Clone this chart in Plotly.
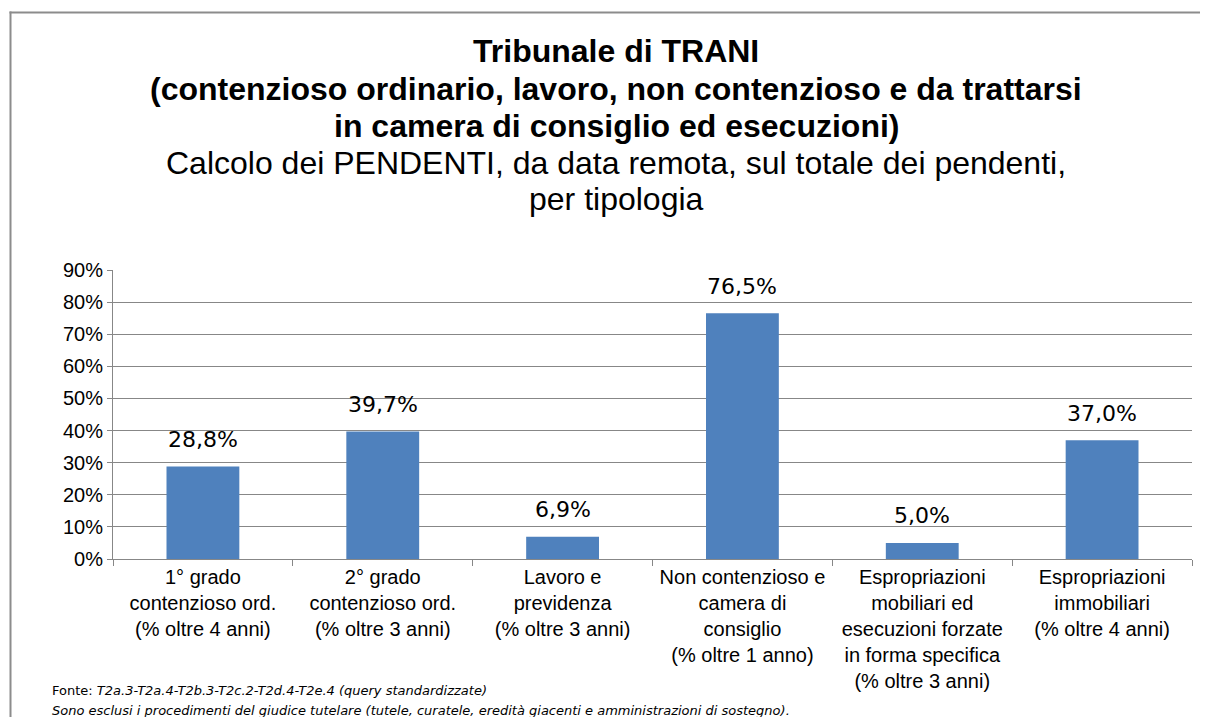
import plotly.graph_objects as go

categories = [
    "1° grado<br>contenzioso ord.<br>(% oltre 4 anni)",
    "2° grado<br>contenzioso ord.<br>(% oltre 3 anni)",
    "Lavoro e<br>previdenza<br>(% oltre 3 anni)",
    "Non contenzioso e<br>camera di<br>consiglio<br>(% oltre 1 anno)",
    "Espropriazioni<br>mobiliari ed<br>esecuzioni forzate<br>in forma specifica<br>(% oltre 3 anni)",
    "Espropriazioni<br>immobiliari<br>(% oltre 4 anni)",
]
values = [0.288, 0.397, 0.069, 0.765, 0.050, 0.370]
y_ticks = [0, 0.1, 0.2, 0.3, 0.4, 0.5, 0.6, 0.7, 0.8, 0.9]

title_lines = [
    ("<b>Tribunale di TRANI</b>", 51),
    ("<b>(contenzioso ordinario, lavoro, non contenzioso e da trattarsi</b>", 89),
    ("<b>in camera di consiglio ed esecuzioni)</b>", 126),
    ("Calcolo dei PENDENTI, da data remota, sul totale dei pendenti,", 163),
    ("per tipologia", 199),
]

OFF = 8  # page body margin
W, H = 1192, 709
L, R, T, B = 105, 8, 262, 158
pw, ph = W - L - R, H - T - B


def px_x(p):
    return (p - OFF - L) / pw


def px_y(p):
    return (H - B - (p - OFF)) / ph


grid = "#878787"
font_main = "Liberation Sans, Arial, sans-serif"

fig = go.Figure()
fig.add_trace(go.Bar(
    x=categories, y=values,
    marker=dict(color="#4F81BD", line=dict(width=0)),
    width=0.405,
    hoverinfo="skip",
))

for c, v in zip(categories, values):
    fig.add_annotation(
        x=c, y=v, xref="x", yref="y",
        text=f"{v*100:.1f}%".replace(".", ","),
        showarrow=False, yanchor="middle", yshift=27,
        font=dict(family="DejaVu Sans, sans-serif", size=22, color="#000000"),
    )

for txt, yc in title_lines:
    fig.add_annotation(
        x=px_x(616), y=px_y(yc), xref="paper", yref="paper",
        text=txt, showarrow=False, xanchor="center", yanchor="middle",
        font=dict(family=font_main, size=32, color="#000000"),
    )

fig.add_annotation(
    x=px_x(50), y=px_y(690), xref="paper", yref="paper",
    text="Fonte: <i>T2a.3-T2a.4-T2b.3-T2c.2-T2d.4-T2e.4 (query standardizzate)</i>",
    showarrow=False, xanchor="left", yanchor="middle", align="left",
    font=dict(family="DejaVu Sans, sans-serif", size=13, color="#000000"),
)
fig.add_annotation(
    x=px_x(50), y=px_y(710), xref="paper", yref="paper",
    text="<i>Sono esclusi i procedimenti del giudice tutelare (tutele, curatele, eredità giacenti e amministrazioni di sostegno).</i>",
    showarrow=False, xanchor="left", yanchor="middle", align="left",
    font=dict(family="DejaVu Sans, sans-serif", size=13, color="#000000"),
)

# outer chart border: only top and left edges are visible in the frame
fig.add_shape(
    type="line", xref="paper", yref="paper",
    x0=px_x(9.5), x1=px_x(1260), y0=px_y(12.5), y1=px_y(12.5),
    line=dict(color="#8c8c8c", width=2), layer="below",
)
fig.add_shape(
    type="line", xref="paper", yref="paper",
    x0=px_x(10.5), x1=px_x(10.5), y0=px_y(11.5), y1=px_y(800),
    line=dict(color="#8c8c8c", width=2), layer="below",
)

fig.update_layout(
    width=W, height=H,
    margin=dict(l=L, r=R, t=T, b=B, autoexpand=False),
    paper_bgcolor="white", plot_bgcolor="white",
    showlegend=False,
    font=dict(family=font_main, size=20, color="#000000"),
)
fig.update_xaxes(
    type="category", showgrid=False,
    showline=True, linecolor=grid, linewidth=1,
    ticks="outside", tickson="boundaries", ticklen=6, tickcolor=grid,
    tickfont=dict(family=font_main, size=20, color="#000000"),
)
fig.update_yaxes(
    range=[0, 0.9], tickvals=y_ticks, tickformat=".0%",
    showgrid=True, gridcolor=grid, gridwidth=1,
    showline=True, linecolor=grid, linewidth=1,
    ticks="outside", ticklen=5, tickcolor=grid,
    tickfont=dict(family=font_main, size=20, color="#000000"),
    zeroline=False,
)

fig.write_html("out.html")
